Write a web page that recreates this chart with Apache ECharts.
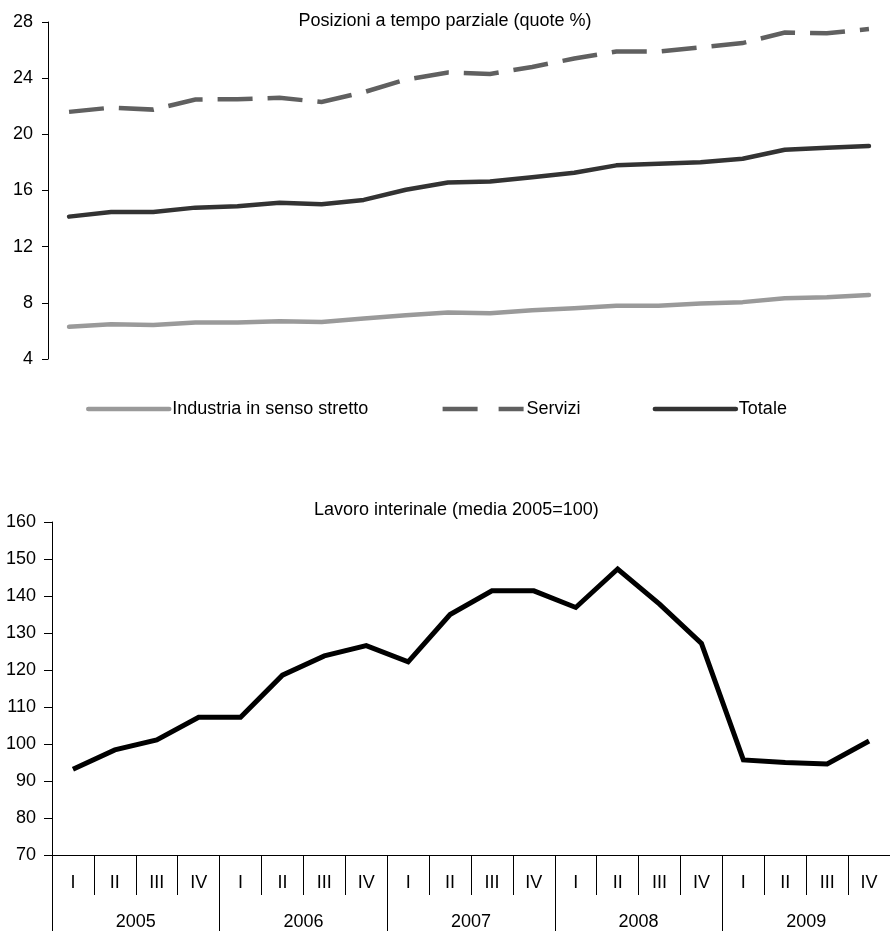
<!DOCTYPE html>
<html>
<head>
<meta charset="utf-8">
<script src="https://cdn.jsdelivr.net/npm/echarts@6/dist/echarts.min.js"></script>
<style>
html,body{margin:0;padding:0;background:#fff;}
#chart{width:890px;height:931px;}
</style>
</head>
<body>
<div id="chart"></div>
<script>
// ---- data ----
const quarters = ['I','II','III','IV','I','II','III','IV','I','II','III','IV','I','II','III','IV','I','II','III','IV'];
const years = ['2005','2006','2007','2008','2009'];
const industria = [6.29, 6.48, 6.43, 6.6, 6.6, 6.69, 6.64, 6.88, 7.12, 7.31, 7.26, 7.48, 7.62, 7.79, 7.8, 7.95, 8.05, 8.33, 8.4, 8.55];
const servizi = [21.6, 21.9, 21.76, 22.48, 22.5, 22.6, 22.3, 23.0, 23.9, 24.4, 24.3, 24.8, 25.4, 25.9, 25.9, 26.2, 26.5, 27.25, 27.2, 27.5];
const totale = [14.14, 14.47, 14.47, 14.78, 14.88, 15.12, 15.02, 15.33, 16.05, 16.57, 16.64, 16.95, 17.26, 17.79, 17.9, 18.02, 18.26, 18.9, 19.05, 19.17];
const interinale = [93.2, 98.4, 101.1, 107.2, 107.2, 118.6, 123.8, 126.6, 122.2, 135.0, 141.4, 141.4, 136.9, 147.3, 137.8, 127.2, 95.7, 95.0, 94.6, 100.8];
const topTicks = {min: 4, max: 28, interval: 4};
const bottomTicks = {min: 70, max: 160, interval: 10};
const titleTop = 'Posizioni a tempo parziale (quote %)';
const titleBottom = 'Lavoro interinale (media 2005=100)';

const FONT = '"Liberation Sans", Arial, sans-serif';
const chart = echarts.init(document.getElementById('chart'), null, {renderer: 'canvas'});

const axisLineStyle = {color: '#000', width: 1};

chart.setOption({
  animation: false,
  backgroundColor: '#fff',
  textStyle: {fontFamily: FONT, color: '#000'},
  title: [
    {text: titleTop, left: 'center', top: 7,
     textStyle: {fontFamily: FONT, fontSize: 18, fontWeight: 'normal', color: '#000'}},
    {text: titleBottom, left: 309, top: 496,
     textStyle: {fontFamily: FONT, fontSize: 18, fontWeight: 'normal', color: '#000'}}
  ],
  legend: {
    left: 86, top: 400, padding: 0,
    itemWidth: 81, itemHeight: 14, itemGap: 72,
    textStyle: {fontFamily: FONT, fontSize: 18, color: '#000', padding: [0,0,0,-2]},
    itemStyle: {opacity: 0},
    lineStyle: {width: 4.5},
    data: [
      {name: 'Industria in senso stretto'},
      {name: 'Servizi', lineStyle: {type: [35, 21], width: 4.5}},
      {name: 'Totale'}
    ]
  },
  grid: [
    {left: 48, top: 22, right: -11, height: 337, containLabel: false},
    {left: 52, top: 522, right: -14, height: 333, containLabel: false}
  ],
  xAxis: [
    {type: 'category', gridIndex: 0, data: quarters, boundaryGap: true,
     axisLine: {show: false}, axisTick: {show: false}, axisLabel: {show: false}, splitLine: {show: false}},
    {type: 'category', gridIndex: 1, data: quarters, boundaryGap: true, position: 'bottom',
     axisLine: {show: true, lineStyle: axisLineStyle},
     axisTick: {show: true, interval: 0, length: 40, inside: false, alignWithLabel: false, lineStyle: axisLineStyle},
     axisLabel: {interval: 0, fontFamily: FONT, fontSize: 18, color: '#000', margin: 19},
     splitLine: {show: false}},
    {type: 'category', gridIndex: 1, data: years, boundaryGap: true, position: 'bottom', offset: 0,
     axisLine: {show: false},
     axisTick: {show: true, interval: 0, length: 76, inside: false, alignWithLabel: false, lineStyle: axisLineStyle},
     axisLabel: {interval: 0, fontFamily: FONT, fontSize: 18, color: '#000', margin: 58},
     splitLine: {show: false}}
  ],
  yAxis: [
    {type: 'value', gridIndex: 0, min: topTicks.min, max: topTicks.max, interval: topTicks.interval,
     axisLine: {show: true, lineStyle: axisLineStyle},
     axisTick: {show: true, length: 6, inside: false, lineStyle: axisLineStyle},
     axisLabel: {fontFamily: FONT, fontSize: 18, color: '#000', margin: 15},
     splitLine: {show: false}},
    {type: 'value', gridIndex: 1, min: bottomTicks.min, max: bottomTicks.max, interval: bottomTicks.interval,
     axisLine: {show: true, lineStyle: axisLineStyle},
     axisTick: {show: true, length: 8, inside: false, lineStyle: axisLineStyle},
     axisLabel: {fontFamily: FONT, fontSize: 18, color: '#000', margin: 16},
     splitLine: {show: false}}
  ],
  series: [
    {name: 'Industria in senso stretto', type: 'line', xAxisIndex: 0, yAxisIndex: 0, data: industria,
     symbol: 'none', color: '#9a9a9a',
     lineStyle: {color: '#9a9a9a', width: 4.5, cap: 'round', join: 'round'}},
    {name: 'Servizi', type: 'line', xAxisIndex: 0, yAxisIndex: 0, data: servizi,
     symbol: 'none', color: '#606060',
     lineStyle: {color: '#606060', width: 4.5, type: [35, 15], cap: 'butt', join: 'miter'}},
    {name: 'Totale', type: 'line', xAxisIndex: 0, yAxisIndex: 0, data: totale,
     symbol: 'none', color: '#333333',
     lineStyle: {color: '#333333', width: 4.5, cap: 'round', join: 'round'}},
    {name: 'Lavoro interinale', type: 'line', xAxisIndex: 1, yAxisIndex: 1, data: interinale,
     symbol: 'none', color: '#000',
     lineStyle: {color: '#000', width: 5, join: 'miter'}}
  ]
});
</script>
</body>
</html>
